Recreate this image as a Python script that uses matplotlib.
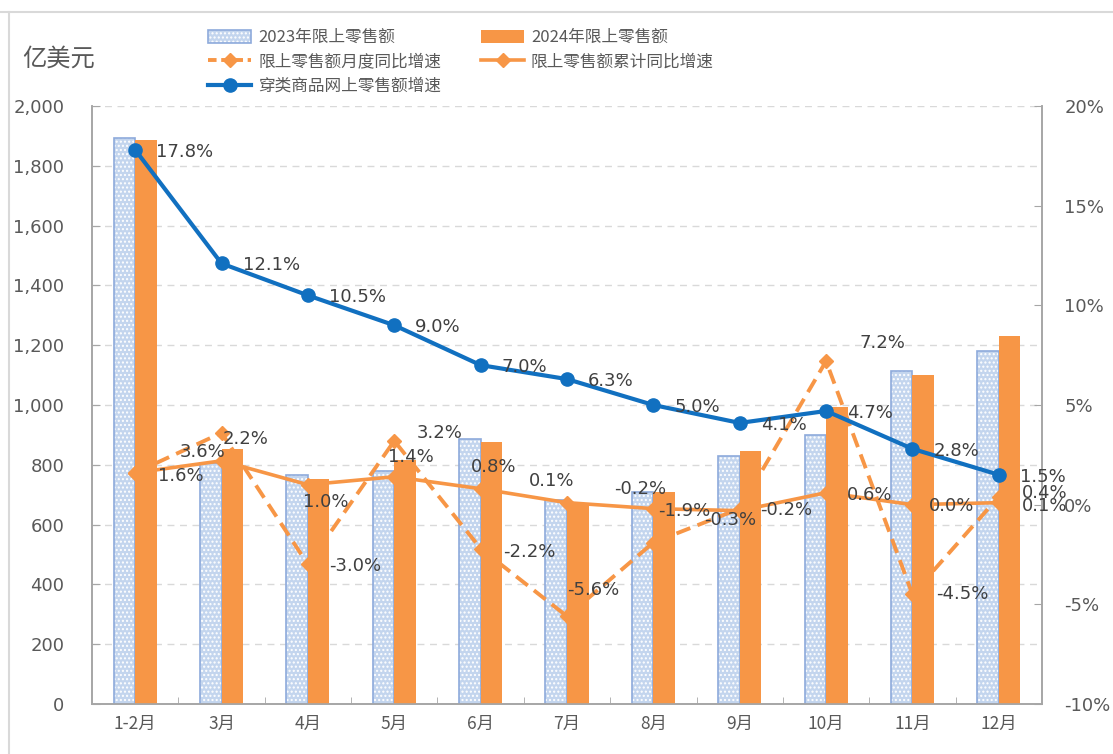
import numpy as np
import matplotlib
matplotlib.use('Agg')
import matplotlib.pyplot as plt
from matplotlib.patches import Patch
from matplotlib.lines import Line2D
from matplotlib.ticker import FuncFormatter, MultipleLocator

plt.rcParams['font.family'] = ['DejaVu Sans']
cjk = ['Noto Sans CJK SC', 'DejaVu Sans']

# data
months = ['1-2月', '3月', '4月', '5月', '6月', '7月', '8月', '9月', '10月', '11月', '12月']
sales_2023 = [1893, 805, 765, 779, 886, 682, 709, 829, 900, 1114, 1181]
sales_2024 = [1886, 853, 753, 816, 876, 672, 709, 846, 993, 1100, 1231]
monthly_yoy = [1.6, 3.6, -3.0, 3.2, -2.2, -5.6, -1.9, -0.2, 7.2, -4.5, 0.4]
cum_yoy = [1.6, 2.2, 1.0, 1.4, 0.8, 0.1, -0.2, -0.3, 0.6, 0.0, 0.1]
online_growth = [17.8, 12.1, 10.5, 9.0, 7.0, 6.3, 5.0, 4.1, 4.7, 2.8, 1.5]

# label offsets (pixels, left edge of text relative to the point)
off_online = [(21, -2)] * 11
off_monthly = [(23, -3), (-42, -19), (21, -2), (22, 8), (22, -3), (0, 26),
               (5, 32), (20, -1), (33, 18), (24, 0), (23, 4)]
off_cum = [None, (1, 22), (-5, -17), (-6, 20), (-10, 22), (-38, 22),
           (-39, 20), (-36, -9), (21, -2), (16, -1), (23, -3)]

c_blue_fill = '#c3d5ee'
c_blue_edge = '#8eaadb'
c_orange = '#f79646'
c_line = '#1170c0'
c_text = '#404040'
c_tick = '#595959'

fig = plt.figure(figsize=(11.13, 7.54), dpi=100)
ax = fig.add_axes([92 / 1113, 50 / 754, 950 / 1113, 598 / 754])
ax2 = ax.twinx()

x = np.arange(len(months))
w = 0.25
ax.bar(x - w / 2, sales_2023, w, color=c_blue_fill, edgecolor='white',
       hatch='....', linewidth=0, zorder=2)
ax.bar(x - w / 2, sales_2023, w, facecolor='none', edgecolor=c_blue_edge,
       linewidth=1.2, zorder=3)
ax.bar(x + w / 2, sales_2024, w, color=c_orange, linewidth=0, zorder=3)

ax.set_xlim(-0.5, len(months) - 0.5)
ax.set_ylim(0, 2000)
ax.yaxis.set_major_locator(MultipleLocator(200))
ax.yaxis.set_major_formatter(FuncFormatter(lambda v, p: f'{v:,.0f}'))
ax.grid(axis='y', color='#d9d9d9', linestyle=(0, (5, 4)), linewidth=1)
ax.set_axisbelow(True)
ax.set_xticks(x)
ax.set_xticklabels(months, family=cjk, fontsize=12.5, color=c_tick)
ax.set_xticks(x[:-1] + 0.5, minor=True)
ax.tick_params(axis='x', which='major', length=0, pad=8)
ax.tick_params(axis='x', which='minor', direction='in', length=5, color='#a6a6a6')
ax.tick_params(axis='y', direction='in', length=6, color='#a6a6a6',
               labelsize=13, labelcolor=c_tick, pad=20)

ax2.set_ylim(-10, 20)
ax2.yaxis.set_major_locator(MultipleLocator(5))
ax2.yaxis.set_major_formatter(FuncFormatter(lambda v, p: f'{v:.0f}%'))
ax2.tick_params(axis='y', direction='in', length=6, color='#a6a6a6',
                labelsize=13, labelcolor=c_tick, pad=16)

for a in (ax, ax2):
    a.spines['top'].set_visible(False)
    for s in ('left', 'right', 'bottom'):
        a.spines[s].set_color('#a6a6a6')
        a.spines[s].set_linewidth(1.2)

ax2.plot(x, monthly_yoy, color=c_orange, linewidth=2.8, dashes=(3.8, 2),
         marker='D', markersize=7, zorder=3)
ax2.plot(x, cum_yoy, color=c_orange, linewidth=2.6, marker='D',
         markersize=7, zorder=4)
ax2.plot(x, online_growth, color=c_line, linewidth=3, marker='o',
         markersize=9.5, zorder=5)

for vals, offs in ((online_growth, off_online), (monthly_yoy, off_monthly),
                   (cum_yoy, off_cum)):
    for xi, v, o in zip(x, vals, offs):
        if o is None:
            continue
        ax2.annotate(f'{v:.1f}%', (xi, v), xytext=o, textcoords='offset pixels',
                     ha='left', va='center', fontsize=13, color=c_text, zorder=6)

fig.text(22 / 1113, 1 - 59 / 754, '亿美元', family=cjk, fontsize=17.5,
         color=c_tick, ha='left', va='center')

h23 = (Patch(facecolor=c_blue_fill, edgecolor='white', hatch='....', linewidth=0),
       Patch(facecolor='none', edgecolor=c_blue_edge, linewidth=1.2))
h24 = Patch(facecolor=c_orange, linewidth=0)
hm = Line2D([], [], color=c_orange, linewidth=2.8, dashes=(2.2, 1.2),
            marker='D', markersize=7)
hc = Line2D([], [], color=c_orange, linewidth=2.6, marker='D', markersize=7)
ho = Line2D([], [], color=c_line, linewidth=3, marker='o', markersize=9.5)
leg = fig.legend([h23, hm, ho, h24, hc],
                 ['2023年限上零售额', '限上零售额月度同比增速', '穿类商品网上零售额增速',
                  '2024年限上零售额', '限上零售额累计同比增速'],
                 ncol=2, loc='upper left', bbox_to_anchor=(208 / 1113, 1 - 29 / 754),
                 frameon=False, borderpad=0, borderaxespad=0, handlelength=2.6,
                 handleheight=0.8, handletextpad=0.4, labelspacing=0.45,
                 columnspacing=2.4, prop={'family': cjk, 'size': 12})
for t in leg.get_texts():
    t.set_color(c_tick)

fig.add_artist(Line2D([0, 1], [1 - 12 / 754, 1 - 12 / 754], color='#d9d9d9',
                      linewidth=1.5, transform=fig.transFigure))
fig.add_artist(Line2D([9 / 1113, 9 / 1113], [0, 1 - 12 / 754], color='#d9d9d9',
                      linewidth=1.5, transform=fig.transFigure))

fig.savefig('out.png', dpi=100)
